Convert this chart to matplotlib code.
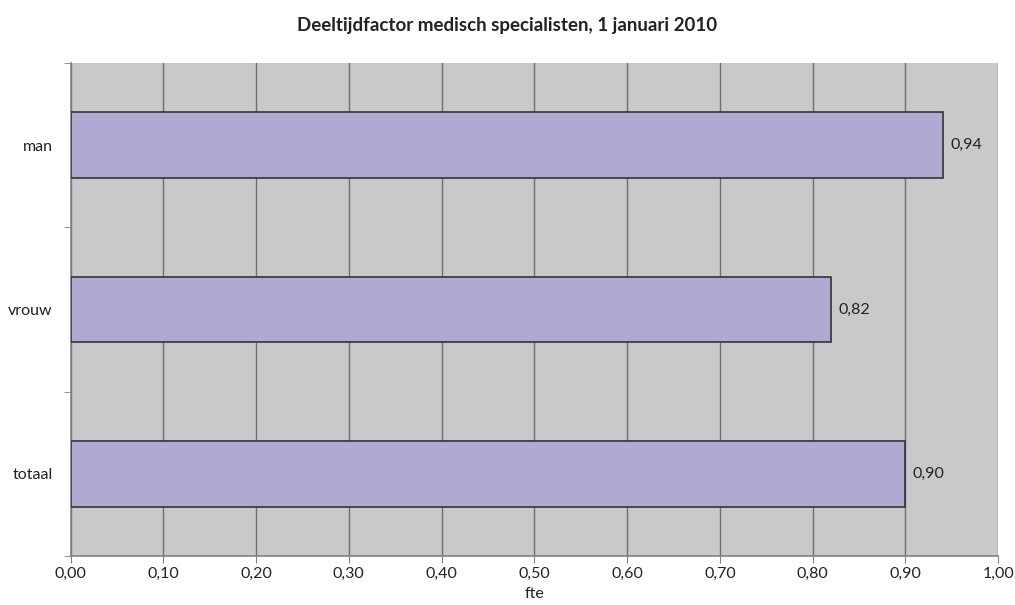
import matplotlib
matplotlib.use("Agg")
import matplotlib.pyplot as plt
import numpy as np

plt.rcParams.update({
    "font.family": ["Lato", "DejaVu Sans"],
    "font.size": 11.5,
})

categories = ["man", "vrouw", "totaal"]
values = [0.94, 0.82, 0.90]
value_labels = ["0,94", "0,82", "0,90"]
x_ticks = [0.0, 0.1, 0.2, 0.3, 0.4, 0.5, 0.6, 0.7, 0.8, 0.9, 1.0]
x_ticklabels = ["0,00", "0,10", "0,20", "0,30", "0,40", "0,50",
                "0,60", "0,70", "0,80", "0,90", "1,00"]

fig = plt.figure(figsize=(10.15, 6.05), dpi=100)
ax = fig.add_axes([0.0695, 0.081, 0.914, 0.815])
ax.set_facecolor("#c8c9ca")

pos = np.arange(len(categories))
ax.barh(pos, values, height=0.4, color="#afa9d3", edgecolor="#333333",
        linewidth=1.2, zorder=3)
for p, v, lab in zip(pos, values, value_labels):
    ax.text(v + 0.008, p, lab, va="center", ha="left", fontsize=11.5,
            color="#222222", zorder=4)

ax.set_xlim(0, 1.0)
ax.set_ylim(2.5, -0.5)
ax.set_xticks(x_ticks)
ax.set_xticklabels(x_ticklabels, fontsize=11.5, color="#222222")
ax.xaxis.grid(True, color="#6e6e6e", linewidth=1.0, zorder=1)
ax.set_axisbelow(True)

ax.set_yticks(pos)
ax.set_yticklabels(categories, fontsize=11.5, color="#222222")
ax.tick_params(axis="y", which="major", length=0, pad=13)
ax.set_yticks([-0.5, 0.5, 1.5, 2.5], minor=True)
ax.tick_params(axis="y", which="minor", length=5, color="#808080")
ax.tick_params(axis="x", length=5, color="#808080", pad=3)

for s in ("top", "right"):
    ax.spines[s].set_visible(False)
for s in ("left", "bottom"):
    ax.spines[s].set_color("#808080")
    ax.spines[s].set_linewidth(1.2)

ax.set_xlabel("fte", fontsize=11.5, color="#222222", labelpad=4)
fig.suptitle("Deeltijdfactor medisch specialisten, 1 januari 2010",
             fontsize=13.5, fontweight="bold", color="#222222", y=0.972)

fig.savefig("out.png", dpi=100)
